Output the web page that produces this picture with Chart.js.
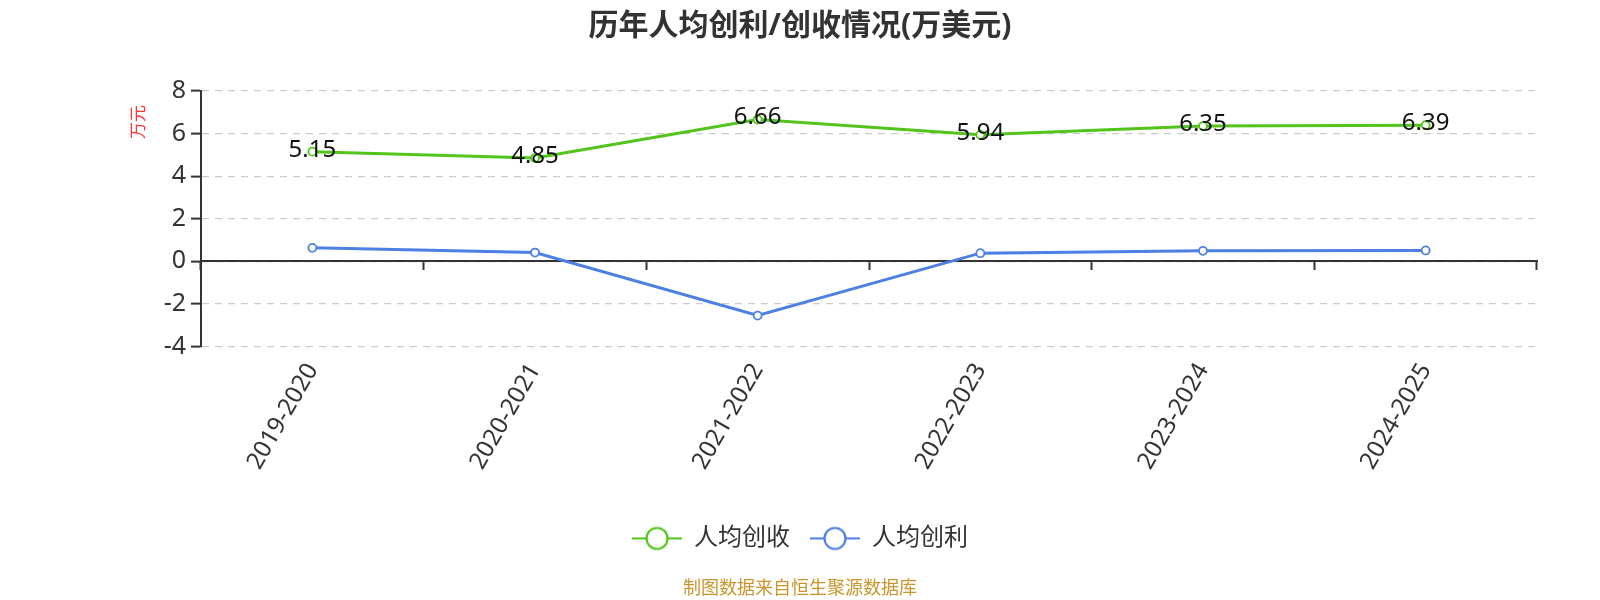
<!DOCTYPE html>
<html>
<head>
<meta charset="utf-8">
<script src="https://cdn.jsdelivr.net/npm/chart.js@4.4.1/dist/chart.umd.min.js"></script>
<style>
  html, body { margin: 0; padding: 0; background: #fff; }
  #wrap { width: 1600px; height: 600px; }
</style>
</head>
<body>
<div id="wrap"><canvas id="chart"></canvas></div>
<script>
'use strict';

// ---------- data ----------
const years = ['2019-2020', '2020-2021', '2021-2022', '2022-2023', '2023-2024', '2024-2025'];
const revenuePerHead = [5.15, 4.85, 6.66, 5.94, 6.35, 6.39];   // 人均创收
const profitPerHead = [0.63, 0.41, -2.55, 0.38, 0.49, 0.51];    // 人均创利
const yTicks = { min: -4, max: 8, step: 2 };

const GREEN = '#52c41a';
const BLUE = '#4d80e2';
const FONT = "'Noto Sans', 'Noto Sans CJK SC', sans-serif";

// ---------- helpers ----------
const legendIcon = (color) => {
  const c = document.createElement('canvas');
  c.width = 50; c.height = 26;
  const g = c.getContext('2d');
  g.strokeStyle = color;
  g.lineWidth = 2;
  g.beginPath(); g.moveTo(0, 13); g.lineTo(50, 13); g.stroke();
  g.beginPath(); g.arc(25, 13, 10.5, 0, Math.PI * 2);
  g.fillStyle = '#fff'; g.fill();
  g.lineWidth = 2.2; g.stroke();
  return c;
};

// value labels on the green series, plus the red unit label
const extras = {
  id: 'extras',
  afterDatasetsDraw(chart) {
    const { ctx, chartArea } = chart;
    const meta = chart.getDatasetMeta(0);
    ctx.save();
    ctx.font = `24px ${FONT}`;
    ctx.fillStyle = '#111';
    ctx.textAlign = 'center';
    ctx.textBaseline = 'middle';
    meta.data.forEach((pt, i) => {
      ctx.fillText(revenuePerHead[i].toFixed(2), pt.x, pt.y - 2);
    });
    ctx.restore();

    ctx.save();
    ctx.translate(chartArea.left - 62, chartArea.top + 31);
    ctx.rotate(-Math.PI / 2);
    ctx.font = `17px ${FONT}`;
    ctx.fillStyle = '#f33';
    ctx.textAlign = 'center';
    ctx.textBaseline = 'middle';
    ctx.fillText('万元', 0, 0);
    ctx.restore();
  },
};

const line = (label, data, color) => ({
  label, data,
  borderColor: color, backgroundColor: color,
  borderWidth: 3, tension: 0,
  pointRadius: 4, pointHoverRadius: 4,
  pointBackgroundColor: '#fff', pointBorderColor: color, pointBorderWidth: 1.8,
  xAxisID: 'x', yAxisID: 'y',
});

new Chart(document.getElementById('chart').getContext('2d'), {
  type: 'line',
  data: {
    labels: years,
    datasets: [
      line('人均创收', revenuePerHead, GREEN),
      line('人均创利', profitPerHead, BLUE),
    ],
  },
  options: {
    responsive: true, maintainAspectRatio: false, animation: false,
    layout: { padding: { left: 63, right: 63, top: 0, bottom: 0 } },
    plugins: {
      tooltip: { enabled: false },
      title: {
        display: true, text: '历年人均创利/创收情况(万美元)', color: '#333',
        font: { family: FONT, size: 30, weight: 'bold', lineHeight: 1.2 },
        padding: { top: 8.5, bottom: 46.5 },
      },
      subtitle: {
        display: true, position: 'bottom', text: '制图数据来自恒生聚源数据库', color: '#c9952c',
        font: { family: FONT, size: 18, lineHeight: 1 },
        padding: { top: 19.6, bottom: 2 },
      },
      legend: {
        position: 'bottom',
        labels: {
          color: '#333', font: { family: FONT, size: 24 },
          usePointStyle: true, pointStyleWidth: 50, padding: 20,
          generateLabels(chart) {
            const items = Chart.defaults.plugins.legend.labels.generateLabels(chart);
            items.forEach((it) => {
              it.pointStyle = legendIcon(chart.data.datasets[it.datasetIndex].borderColor);
            });
            return items;
          },
        },
      },
    },
    scales: {
      x: {
        type: 'category', position: { y: 0 }, offset: true,
        border: { display: true, color: '#333', width: 2 },
        grid: { display: true, offset: true, drawOnChartArea: false, drawTicks: true,
          tickLength: 8, tickColor: '#333', tickWidth: 2 },
        ticks: { display: false },
      },
      x2: {
        type: 'category', position: 'bottom', offset: true,
        border: { display: false },
        grid: { display: false, drawTicks: false },
        ticks: { color: '#333', font: { family: FONT, size: 24 }, padding: 12,
          autoSkip: false, minRotation: 60, maxRotation: 60 },
        afterFit: (s) => { s.height = 160; },
      },
      y: {
        min: yTicks.min, max: yTicks.max,
        border: { display: true, color: '#333', width: 2, dash: [7, 6] },
        grid: { color: '#ccc', lineWidth: 1.2, drawTicks: true, tickLength: 10,
          tickColor: '#333', tickWidth: 2, tickBorderDash: [] },
        ticks: { stepSize: yTicks.step, color: '#333', font: { family: FONT, size: 25 }, padding: 5 },
        afterFit: (s) => { s.width = 138; },
      },
    },
  },
  plugins: [extras],
});
</script>
</body>
</html>
